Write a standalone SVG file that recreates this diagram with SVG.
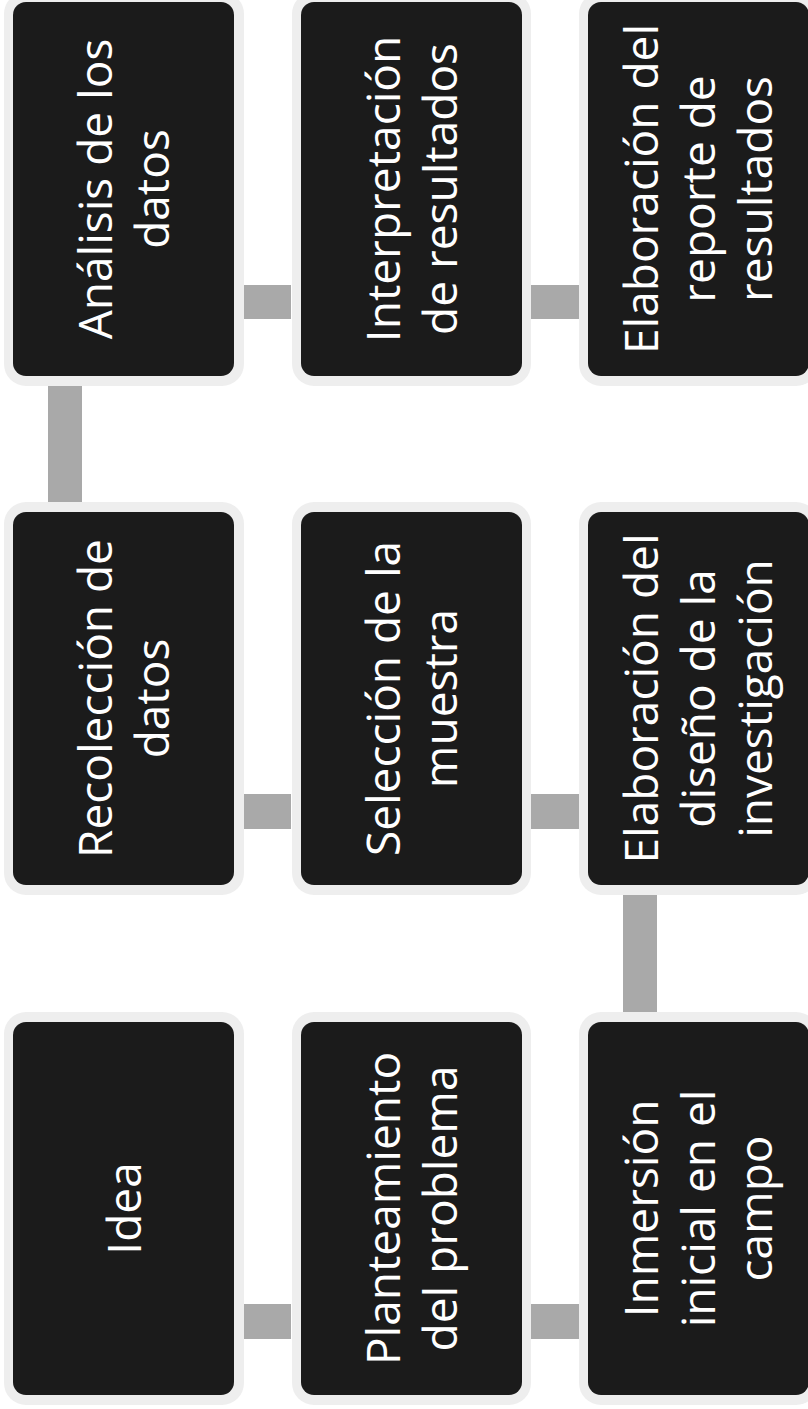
<svg xmlns="http://www.w3.org/2000/svg" width="808" height="1409" viewBox="0 0 808 1409">
<style>
.ring{fill:#eeeeee}
.box{fill:#1b1b1b}
.lbl{font-family:"Open Sans","Noto Sans",sans-serif;font-size:46px;fill:#ffffff;text-anchor:middle}
.conn{fill:#a9a9a9}
</style>
<rect width="808" height="1409" fill="#ffffff"/>
<g id="connectors">
<rect class="conn" x="243" y="285" width="48" height="34"/>
<rect class="conn" x="531" y="285" width="48" height="34"/>
<rect class="conn" x="48" y="376" width="34" height="136"/>
<rect class="conn" x="243" y="794" width="48" height="35"/>
<rect class="conn" x="531" y="794" width="48" height="35"/>
<rect class="conn" x="623" y="885" width="34" height="137"/>
<rect class="conn" x="243" y="1304" width="48" height="35"/>
<rect class="conn" x="531" y="1304" width="48" height="35"/>
</g>
<g id="n-analisis">
<rect class="ring" x="4" y="-8" width="240" height="394" rx="22"/>
<rect class="box" x="13" y="2" width="221" height="374" rx="13"/>
<g transform="translate(123.5,189) rotate(-90)"><text class="lbl" x="0" y="-11.5">Análisis de los</text><text class="lbl" x="0" y="45.5">datos</text></g>
</g>
<g id="n-interpretacion">
<rect class="ring" x="292" y="-8" width="239" height="394" rx="22"/>
<rect class="box" x="301" y="2" width="221" height="374" rx="13"/>
<g transform="translate(411.5,189) rotate(-90)"><text class="lbl" x="0" y="-11.5">Interpretación</text><text class="lbl" x="0" y="45.5">de resultados</text></g>
</g>
<g id="n-reporte">
<rect class="ring" x="579" y="-8" width="239" height="394" rx="22"/>
<rect class="box" x="588" y="2" width="221" height="374" rx="13"/>
<g transform="translate(698,189) rotate(-90)"><text class="lbl" x="0" y="-40">Elaboración del</text><text class="lbl" x="0" y="17">reporte de</text><text class="lbl" x="0" y="74">resultados</text></g>
</g>
<g id="n-recoleccion">
<rect class="ring" x="4" y="502" width="240" height="393" rx="22"/>
<rect class="box" x="13" y="512" width="221" height="373" rx="13"/>
<g transform="translate(123.5,698.5) rotate(-90)"><text class="lbl" x="0" y="-11.5">Recolección de</text><text class="lbl" x="0" y="45.5">datos</text></g>
</g>
<g id="n-seleccion">
<rect class="ring" x="292" y="502" width="239" height="393" rx="22"/>
<rect class="box" x="301" y="512" width="221" height="373" rx="13"/>
<g transform="translate(411.5,698.5) rotate(-90)"><text class="lbl" x="0" y="-11.5">Selección de la</text><text class="lbl" x="0" y="45.5">muestra</text></g>
</g>
<g id="n-diseno">
<rect class="ring" x="579" y="502" width="239" height="393" rx="22"/>
<rect class="box" x="588" y="512" width="221" height="373" rx="13"/>
<g transform="translate(698,698.5) rotate(-90)"><text class="lbl" x="0" y="-40">Elaboración del</text><text class="lbl" x="0" y="17">diseño de la</text><text class="lbl" x="0" y="74">investigación</text></g>
</g>
<g id="n-idea">
<rect class="ring" x="4" y="1012" width="240" height="393" rx="22"/>
<rect class="box" x="13" y="1022" width="221" height="373" rx="13"/>
<g transform="translate(123.5,1208.5) rotate(-90)"><text class="lbl" x="0" y="17">Idea</text></g>
</g>
<g id="n-planteamiento">
<rect class="ring" x="292" y="1012" width="239" height="393" rx="22"/>
<rect class="box" x="301" y="1022" width="221" height="373" rx="13"/>
<g transform="translate(411.5,1208.5) rotate(-90)"><text class="lbl" x="0" y="-11.5">Planteamiento</text><text class="lbl" x="0" y="45.5">del problema</text></g>
</g>
<g id="n-inmersion">
<rect class="ring" x="579" y="1012" width="239" height="393" rx="22"/>
<rect class="box" x="588" y="1022" width="221" height="373" rx="13"/>
<g transform="translate(698,1208.5) rotate(-90)"><text class="lbl" x="0" y="-40">Inmersión</text><text class="lbl" x="0" y="17">inicial en el</text><text class="lbl" x="0" y="74">campo</text></g>
</g>
</svg>
